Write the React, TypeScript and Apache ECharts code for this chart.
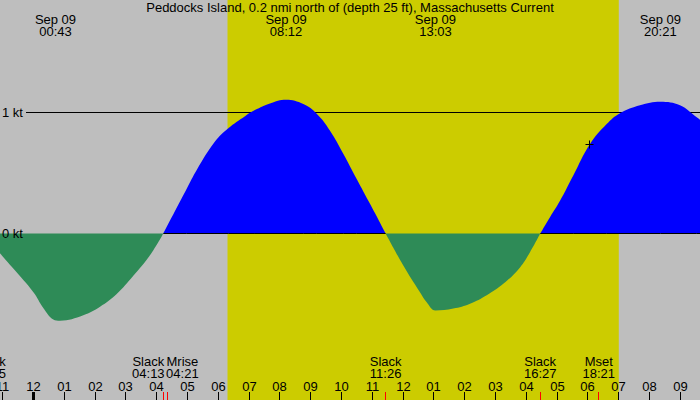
import React, { useEffect, useRef } from 'react'
import * as echarts from 'echarts'

const FONT = '"Liberation Sans", Arial, sans-serif'
const TITLE = 'Peddocks Island, 0.2 nmi north of (depth 25 ft), Massachusetts Current'

// axis ranges: hours from midnight Sep 09, knots
const X_MIN = -1.084
const X_MAX = 21.636
const Y_MIN = -1.376
const Y_MAX = 1.93

// current speed (flood +, ebb -)
const currentHours = [
  -1.084, -0.652, 0, 0.321, 0.646, 0.863, 1.62, 2.162, 2.704, 3.242, 3.784, 4.217,
  4.976, 5.31, 5.894, 6.326, 6.868, 7.19, 7.679, 8.2, 8.76, 9.195, 9.627, 10.058, 10.493, 10.925, 11.433,
  12.006, 12.547, 12.765, 13.05, 13.629, 14.171, 14.713, 15.252, 15.794, 16.118, 16.45,
  16.767, 17.092, 17.523, 18.065, 18.607, 19.039, 19.688, 20.35, 20.987, 21.529, 21.636,
]
const currentKnots = [
  -0.164, -0.29, -0.485, -0.615, -0.71, -0.72, -0.675, -0.605, -0.5, -0.35, -0.18, 0,
  0.37, 0.53, 0.76, 0.87, 0.97, 1.02, 1.075, 1.105, 1.07, 0.99, 0.85, 0.66, 0.45, 0.245, 0,
  -0.264, -0.485, -0.568, -0.636, -0.62, -0.58, -0.51, -0.416, -0.28, -0.155, 0,
  0.135, 0.27, 0.48, 0.74, 0.905, 0.995, 1.06, 1.09, 1.06, 0.96, 0.94,
]

const yTicks = [0, 1]
const yTickLabels = ['0 kt', '1 kt']

const hourTicks = [-1, 0, 1, 2, 3, 4, 5, 6, 7, 8, 9, 10, 11, 12, 13, 14, 15, 16, 17, 18, 19, 20, 21]
const hourLabels = [
  '11', '12', '01', '02', '03', '04', '05', '06', '07', '08', '09', '10', '11',
  '12', '01', '02', '03', '04', '05', '06', '07', '08', '09',
]

const eventNames = ['Slack', 'Slack', 'Mrise', 'Slack', 'Slack', 'Mset']
const eventTimes = ['22:35', '04:13', '04:21', '11:26', '16:27', '18:21']
const eventDays = [-1, 0, 0, 0, 0, 0]

const peakDates = ['Sep 09', 'Sep 09', 'Sep 09', 'Sep 09']
const peakTimes = ['00:43', '08:12', '13:03', '20:21']

const sunTimes = ['06:18', '19:00']
const nowMarker = [18.04, 0.734]

const toHours = (t: string, day = 0) => {
  const [hh, mm] = t.split(':').map(Number)
  return day * 24 + hh + mm / 60
}

const measure = (() => {
  const ctx = document.createElement('canvas').getContext('2d')!
  ctx.font = `13px ${FONT}`
  return (s: string) => ctx.measureText(s).width
})()

const textStyle = (text: string, x: number, y: number, align = 'center') => ({
  text,
  x,
  y,
  align,
  verticalAlign: 'middle',
  lineHeight: 12,
  fill: '#000',
  font: `13px ${FONT}`,
})

const App: React.FC = () => {
  const chartRef = useRef<HTMLDivElement>(null)

  useEffect(() => {
    document.body.style.margin = '0'
    if (!chartRef.current) return
    const chart = echarts.init(chartRef.current, undefined, { renderer: 'svg' })

    // split flood and ebb; slack points belong to both
    const flood = currentHours.map((h, i) => (currentKnots[i] >= 0 ? [h, currentKnots[i]] : null))
    const ebb = currentHours.map((h, i) => (currentKnots[i] <= 0 ? [h, currentKnots[i]] : null))
    const zeroLine = flood.map(p => (p ? [p[0], 0] : null))

    const eventHours = eventTimes.map((t, i) => toHours(t, eventDays[i]))
    const peakHours = peakTimes.map(t => toHours(t))

    const series: any[] = [
      {
        type: 'line',
        data: [[toHours(sunTimes[0]), 0]],
        symbol: 'none',
        lineStyle: { opacity: 0 },
        silent: true,
        z: 0,
        markArea: {
          silent: true,
          itemStyle: { color: '#cccc00' },
          data: [[{ xAxis: toHours(sunTimes[0]) }, { xAxis: toHours(sunTimes[1]) }]],
        },
      },
      {
        // grid lines (zero line is drawn only under flood)
        type: 'custom',
        z: 1,
        silent: true,
        data: yTicks.map((v, i) => [X_MIN, v, i]),
        renderItem: (params: any, api: any) => {
          const v = api.value(1)
          const cs = params.coordSys
          if (v === 0) return { type: 'group', children: [] }
          const y = Math.round(api.coord([X_MIN, v])[1] - 0.5) + 0.5
          return {
            type: 'line',
            shape: { x1: cs.x + 26, y1: y, x2: cs.x + cs.width, y2: y },
            style: { stroke: '#000', lineWidth: 1 },
          }
        },
      },
      {
        type: 'line',
        data: flood,
        smooth: 0.4,
        symbol: 'none',
        lineStyle: { width: 0, opacity: 0 },
        areaStyle: { color: '#0000ff', opacity: 1 },
        z: 2,
        silent: true,
      },
      {
        type: 'line',
        data: ebb,
        smooth: 0.4,
        symbol: 'none',
        lineStyle: { width: 0, opacity: 0 },
        areaStyle: { color: '#2e8b57', opacity: 1 },
        z: 3,
        silent: true,
      },
      {
        type: 'line',
        data: zeroLine,
        symbol: 'none',
        lineStyle: { color: '#000', width: 1 },
        z: 4,
        silent: true,
      },
      {
        // y tick labels
        type: 'custom',
        z: 5,
        silent: true,
        data: yTicks.map((v, i) => [X_MIN, v, i]),
        renderItem: (params: any, api: any) => {
          const y = api.coord([X_MIN, api.value(1)])[1]
          return { type: 'text', style: textStyle(yTickLabels[api.value(2)], params.coordSys.x + 2, y, 'left') }
        },
      },
      {
        // hour ticks along the bottom
        type: 'custom',
        z: 5,
        silent: true,
        data: hourTicks.map((h, i) => [h, 0, i]),
        renderItem: (params: any, api: any) => {
          const h = api.value(0)
          const cs = params.coordSys
          const bottom = cs.y + cs.height
          const x = Math.round(api.coord([h, 0])[0] - 0.5) + 0.5
          const midnight = ((h % 24) + 24) % 24 === 0
          return {
            type: 'group',
            children: [
              {
                type: 'line',
                shape: { x1: x, y1: bottom - 8, x2: x, y2: bottom },
                style: { stroke: '#000', lineWidth: midnight ? 3 : 1 },
              },
              { type: 'text', style: textStyle(hourLabels[api.value(2)], x, bottom - 14) },
            ],
          }
        },
      },
      {
        // slack / moon events, labels pushed apart when they collide
        type: 'custom',
        z: 5,
        silent: true,
        data: eventHours.map((h, i) => [h, 0, i]),
        renderItem: (params: any, api: any) => {
          const idx = api.value(2)
          const cs = params.coordSys
          const bottom = cs.y + cs.height
          const px = eventHours.map(h => api.coord([h, 0])[0])
          const widths = eventNames.map((n, i) => Math.max(measure(n), measure(eventTimes[i])))
          const centers = [...px]
          for (let i = 1; i < centers.length; i++) {
            const need = (widths[i - 1] + widths[i]) / 2 + 1.5
            const gap = centers[i] - centers[i - 1]
            if (gap < need) {
              const shift = (need - gap) / 2
              centers[i - 1] -= shift
              centers[i] += shift
            }
          }
          const x = Math.round(px[idx] - 0.5) + 0.5
          return {
            type: 'group',
            children: [
              {
                type: 'line',
                shape: { x1: x, y1: bottom - 8, x2: x, y2: bottom },
                style: { stroke: '#ff0000', lineWidth: 1 },
              },
              {
                type: 'text',
                style: textStyle(`${eventNames[idx]}\n${eventTimes[idx]}`, centers[idx], bottom - 32.5),
              },
            ],
          }
        },
      },
      {
        // max flood / ebb times along the top
        type: 'custom',
        z: 5,
        silent: true,
        data: peakHours.map((h, i) => [h, 0, i]),
        renderItem: (params: any, api: any) => {
          const idx = api.value(2)
          const top = params.coordSys.y
          const x = api.coord([api.value(0), 0])[0]
          return {
            type: 'text',
            style: textStyle(`${peakDates[idx]}\n${peakTimes[idx]}`, x, top + 25.5),
          }
        },
      },
      {
        // current time marker
        type: 'custom',
        z: 6,
        silent: true,
        data: [nowMarker],
        renderItem: (params: any, api: any) => {
          const [cx, cy] = api.coord([api.value(0), api.value(1)])
          const x = Math.round(cx - 0.5) + 0.5
          const y = Math.round(cy - 0.5) + 0.5
          return {
            type: 'group',
            children: [
              { type: 'line', shape: { x1: x - 4, y1: y, x2: x + 4, y2: y }, style: { stroke: '#000', lineWidth: 1 } },
              { type: 'line', shape: { x1: x, y1: y - 4, x2: x, y2: y + 4 }, style: { stroke: '#000', lineWidth: 1 } },
            ],
          }
        },
      },
    ]

    chart.setOption({
      animation: false,
      backgroundColor: '#bebebe',
      title: {
        text: TITLE,
        left: 'center',
        top: 0,
        padding: [1, 0, 0, 0],
        textStyle: { fontSize: 13, fontWeight: 'normal', color: '#000', fontFamily: FONT },
      },
      grid: { left: 0, right: 0, top: 0, bottom: 0, containLabel: false },
      xAxis: { type: 'value', min: X_MIN, max: X_MAX, show: false },
      yAxis: { type: 'value', min: Y_MIN, max: Y_MAX, show: false },
      series,
    })

    return () => {
      chart.dispose()
    }
  }, [])

  return <div ref={chartRef} style={{ width: '700px', height: '400px' }} />
}

export default App
